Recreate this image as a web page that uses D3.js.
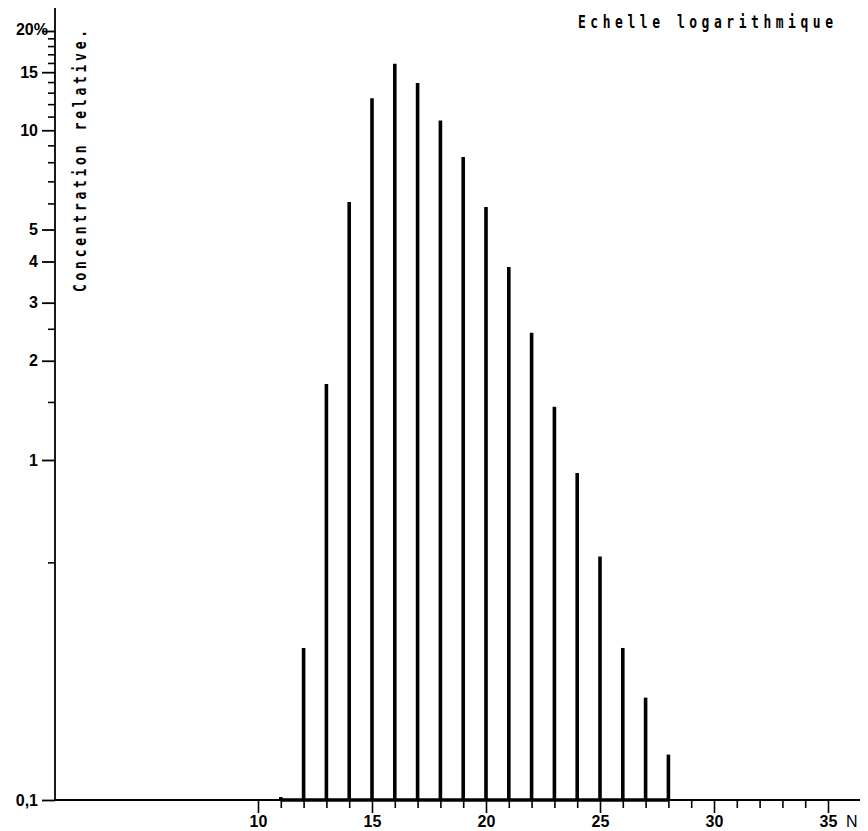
<!DOCTYPE html>
<html>
<head>
<meta charset="utf-8">
<script src="https://cdn.jsdelivr.net/npm/d3@7"></script>
<style>
  html, body { margin: 0; padding: 0; background: #fff; }
  svg { display: block; }
</style>
</head>
<body>
<svg id="chart" width="868" height="831"></svg>
<script>
// ---- data ----
const carbonNumbers = [11, 12, 13, 14, 15, 16, 17, 18, 19, 20, 21, 22, 23, 24, 25, 26, 27, 28];
const concentrations = [0.102, 0.28, 1.70, 6.06, 12.5, 15.9, 13.9, 10.7, 8.3, 5.85, 3.85, 2.43, 1.45, 0.915, 0.52, 0.28, 0.20, 0.136];
const yMajorTicks = [0.1, 1, 2, 3, 4, 5, 10, 15, 20];
const yMajorLabels = ["0,1", "1", "2", "3", "4", "5", "10", "15", "20%"];
const yMinorTicks = [0.5, 1.5, 2.5, 6, 7, 8, 9, 11, 12, 13, 14, 16, 17, 18, 19];
const xTicks = d3.range(10, 36);
const xLabeledTicks = [10, 15, 20, 25, 30, 35];
const titleText = "Echelle logarithmique";
const yAxisTitle = "Concentration relative.";
const xAxisTitle = "N";

// ---- layout ----
const svg = d3.select("#chart");
const axisX0 = 55, axisTop = 8, axisRight = 860;
const x = d3.scaleLinear().domain([10, 35]).range([258, 828]);
const y = d3.scaleLog().domain([0.1, 1, 20]).range([800, 460, 31]);
const baseY = y(0.1);
const labelFont = "Liberation Sans, Arial, sans-serif";

// axis lines
svg.append("line")
  .attr("x1", axisX0).attr("x2", axisX0)
  .attr("y1", baseY).attr("y2", axisTop)
  .attr("stroke", "#000").attr("stroke-width", 1.8);
svg.append("line")
  .attr("x1", axisX0).attr("x2", axisRight)
  .attr("y1", baseY).attr("y2", baseY)
  .attr("stroke", "#000").attr("stroke-width", 2);

// y axis: major ticks with labels
const yMajor = svg.append("g").attr("transform", `translate(${axisX0},0)`)
  .call(d3.axisLeft(y).tickValues(yMajorTicks).tickSize(13).tickPadding(4)
    .tickFormat((d, i) => yMajorLabels[i]));
yMajor.select(".domain").remove();
yMajor.attr("font-family", labelFont).attr("font-size", 16);
yMajor.selectAll(".tick line").attr("stroke", "#000").attr("stroke-width", 1.8);
yMajor.selectAll(".tick text").attr("fill", "#000").attr("font-weight", "bold");
yMajor.selectAll(".tick").filter(d => d === 20).select("text")
  .attr("x", -7).attr("dy", "0.2em");

// y axis: minor ticks
const yMinor = svg.append("g").attr("transform", `translate(${axisX0},0)`)
  .call(d3.axisLeft(y).tickValues(yMinorTicks).tickSize(7).tickFormat(""));
yMinor.select(".domain").remove();
yMinor.selectAll(".tick line").attr("stroke", "#000").attr("stroke-width", 1.6);

// x axis ticks
const xAx = svg.append("g").attr("transform", `translate(0,${baseY})`)
  .call(d3.axisBottom(x).tickValues(xTicks)
    .tickSize(8).tickPadding(8)
    .tickFormat(d => xLabeledTicks.includes(d) ? d : ""));
xAx.select(".domain").remove();
xAx.attr("font-family", labelFont).attr("font-size", 16);
xAx.selectAll(".tick line").attr("stroke", "#000").attr("stroke-width", 1.6)
  .attr("y2", d => xLabeledTicks.includes(d) ? 13 : 8);
xAx.selectAll(".tick text").attr("fill", "#000").attr("font-weight", "bold");

// thick baseline under the bars
svg.append("line")
  .attr("x1", x(d3.min(carbonNumbers))).attr("x2", x(d3.max(carbonNumbers)))
  .attr("y1", baseY).attr("y2", baseY)
  .attr("stroke", "#000").attr("stroke-width", 3.5);

// bars (vertical lines)
svg.append("g").selectAll("line")
  .data(carbonNumbers.map((n, i) => ({ n, v: concentrations[i] })))
  .join("line")
  .attr("x1", d => x(d.n)).attr("x2", d => x(d.n))
  .attr("y1", baseY).attr("y2", d => y(d.v))
  .attr("stroke", "#000").attr("stroke-width", 3.6);

// texts
svg.append("text")
  .attr("transform", "translate(578,28) scale(0.72,1)")
  .attr("font-family", "DejaVu Sans Mono, monospace")
  .attr("font-size", 18).attr("font-weight", "bold")
  .attr("textLength", 255 / 0.72).attr("lengthAdjust", "spacing")
  .attr("fill", "#000")
  .text(titleText);

svg.append("text")
  .attr("transform", "translate(86,292) rotate(-90) scale(0.72,1)")
  .attr("font-family", "DejaVu Sans Mono, monospace")
  .attr("font-size", 18).attr("font-weight", "bold")
  .attr("textLength", 262 / 0.72).attr("lengthAdjust", "spacing")
  .attr("fill", "#000")
  .text(yAxisTitle);

svg.append("text")
  .attr("x", 846).attr("y", 827)
  .attr("font-family", labelFont)
  .attr("font-size", 16)
  .attr("fill", "#000")
  .text(xAxisTitle);
</script>
</body>
</html>
